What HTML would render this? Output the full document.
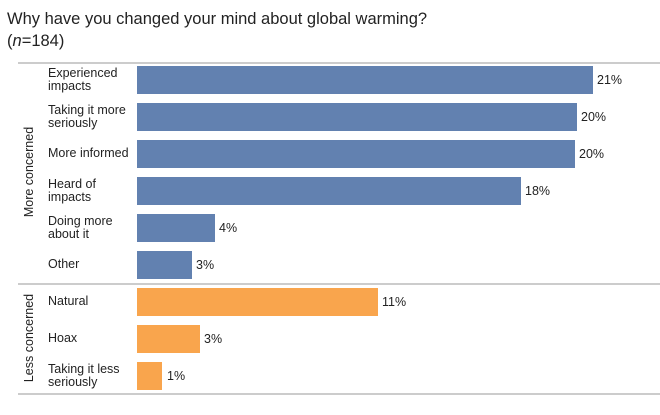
<!DOCTYPE html><html><head><style>
body{margin:0;width:660px;height:415px;background:#fff;font-family:"Liberation Sans",sans-serif;color:#222;position:relative;overflow:hidden}
.a{position:absolute}
.t{left:7px;top:8px;font-size:16.5px;line-height:22px}
.hl{position:absolute;left:18px;right:0;height:1.5px;background:#ccc}
.b{position:absolute;left:137px;height:28px}
.l{position:absolute;left:48px;font-size:12.5px;line-height:13.5px;display:flex;align-items:center;height:28px}
.v{position:absolute;font-size:12.5px;line-height:28px;height:28px}
.g{position:absolute;font-size:12.5px;transform:rotate(-90deg);transform-origin:center;white-space:nowrap;width:120px;text-align:center}
</style></head><body>
<div class="a t">Why have you changed your mind about global warming?<br>(<i>n</i>=184)</div>
<div class="hl" style="top:62px"></div>
<div class="hl" style="top:283px"></div>
<div class="hl" style="top:393px"></div>
<div class="g" style="left:-31px;top:165px">More concerned</div>
<div class="g" style="left:-31px;top:331px">Less concerned</div>

<div class="l" style="top:66px">Experienced<br>impacts</div><div class="b" style="top:66px;width:456px;background:#6281b0"></div><div class="v" style="top:66px;left:597px">21%</div>
<div class="l" style="top:103px">Taking it more<br>seriously</div><div class="b" style="top:103px;width:440px;background:#6281b0"></div><div class="v" style="top:103px;left:581px">20%</div>
<div class="l" style="top:140px">More informed</div><div class="b" style="top:140px;width:438px;background:#6281b0"></div><div class="v" style="top:140px;left:579px">20%</div>
<div class="l" style="top:177px">Heard of<br>impacts</div><div class="b" style="top:177px;width:384px;background:#6281b0"></div><div class="v" style="top:177px;left:525px">18%</div>
<div class="l" style="top:214px">Doing more<br>about it</div><div class="b" style="top:214px;width:78px;background:#6281b0"></div><div class="v" style="top:214px;left:219px">4%</div>
<div class="l" style="top:251px">Other</div><div class="b" style="top:251px;width:55px;background:#6281b0"></div><div class="v" style="top:251px;left:196px">3%</div>
<div class="l" style="top:288px">Natural</div><div class="b" style="top:288px;width:241px;background:#f9a54d"></div><div class="v" style="top:288px;left:382px">11%</div>
<div class="l" style="top:325px">Hoax</div><div class="b" style="top:325px;width:63px;background:#f9a54d"></div><div class="v" style="top:325px;left:204px">3%</div>
<div class="l" style="top:362px">Taking it less<br>seriously</div><div class="b" style="top:362px;width:25px;background:#f9a54d"></div><div class="v" style="top:362px;left:167px">1%</div>
</body></html>
